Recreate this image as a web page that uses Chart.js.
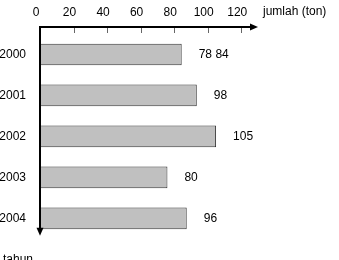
<!DOCTYPE html>
<html>
<head>
<meta charset="utf-8">
<script src="https://cdn.jsdelivr.net/npm/chart.js@4"></script>
<style>
  html, body { margin: 0; padding: 0; background: #fff; }
  #wrap { width: 339px; height: 260px; }
</style>
</head>
<body>
<div id="wrap"><canvas id="chart"></canvas></div>
<script>
// data
const years = ['2000', '2001', '2002', '2003', '2004'];
const amounts = [84.5, 93.5, 105, 76, 87.5];
const valueLabels = ['78 84', '98', '105', '80', '96'];
const xTicks = [0, 20, 40, 60, 80, 100, 120];

const FONT = '12px "Liberation Sans", Arial, sans-serif';
const AXIS_GAP = 7;   // x axis line sits a bit above the first bar band
const LABEL_GAP = 17;

// axes with arrows, tick marks, value labels and axis names
const axisArt = {
  id: 'axisArt',
  afterDatasetsDraw(chart) {
    const { ctx, chartArea: a, scales: { x } } = chart;
    const x0 = Math.round(x.getPixelForValue(0));
    const yAxis = Math.round(a.top - AXIS_GAP);
    ctx.save();

    ctx.font = FONT;
    ctx.fillStyle = '#000';
    ctx.textBaseline = 'middle';
    chart.getDatasetMeta(0).data.forEach((bar, i) => {
      ctx.fillText(valueLabels[i], bar.x + LABEL_GAP, bar.y);
    });

    ctx.strokeStyle = '#666';
    ctx.lineWidth = 1;
    xTicks.slice(1).forEach(v => {
      const px = Math.round(x.getPixelForValue(v)) + 0.5;
      ctx.beginPath();
      ctx.moveTo(px, yAxis);
      ctx.lineTo(px, yAxis + 6);
      ctx.stroke();
    });

    ctx.strokeStyle = '#000';
    ctx.fillStyle = '#000';
    ctx.lineWidth = 2;
    const tipX = a.right;
    ctx.beginPath();
    ctx.moveTo(x0, yAxis);
    ctx.lineTo(tipX - 6, yAxis);
    ctx.stroke();
    ctx.beginPath();
    ctx.moveTo(tipX, yAxis);
    ctx.lineTo(tipX - 8, yAxis - 3.5);
    ctx.lineTo(tipX - 8, yAxis + 3.5);
    ctx.closePath();
    ctx.fill();

    const tipY = a.bottom - 3;
    ctx.beginPath();
    ctx.moveTo(x0, yAxis - 1);
    ctx.lineTo(x0, tipY - 6);
    ctx.stroke();
    ctx.beginPath();
    ctx.moveTo(x0, tipY);
    ctx.lineTo(x0 - 3.5, tipY - 8);
    ctx.lineTo(x0 + 3.5, tipY - 8);
    ctx.closePath();
    ctx.fill();

    ctx.fillStyle = '#000';
    ctx.textBaseline = 'middle';
    ctx.fillText('jumlah (ton)', a.right + 5, 12);
    ctx.textBaseline = 'alphabetic';
    ctx.fillText('tahun', 3, chart.height + 3);
    ctx.restore();
  }
};

new Chart(document.getElementById('chart'), {
  type: 'bar',
  data: {
    labels: years,
    datasets: [{
      data: amounts,
      backgroundColor: '#c0c0c0',
      borderColor: '#333',
      borderWidth: 1,
      borderSkipped: false,
      categoryPercentage: 1,
      barPercentage: 0.53
    }]
  },
  options: {
    indexAxis: 'y',
    responsive: true,
    maintainAspectRatio: false,
    animation: false,
    layout: { padding: { top: 0, right: 81, bottom: 20, left: 0 } },
    plugins: { legend: { display: false }, tooltip: { enabled: false } },
    scales: {
      x: {
        position: 'top',
        min: 0,
        max: 130,
        afterFit: s => { s.height = 34; },
        grid: { display: false, drawTicks: false },
        border: { display: false },
        ticks: {
          stepSize: 20,
          includeBounds: false,
          padding: 14,
          labelOffset: -4,
          color: '#000',
          font: { family: '"Liberation Sans", Arial, sans-serif', size: 12 }
        }
      },
      y: {
        afterFit: s => { s.width = 40; },
        grid: { display: false, drawTicks: false },
        border: { display: false },
        ticks: {
          padding: 14,
          color: '#000',
          font: { family: '"Liberation Sans", Arial, sans-serif', size: 12 }
        }
      }
    }
  },
  plugins: [axisArt]
});
</script>
</body>
</html>
